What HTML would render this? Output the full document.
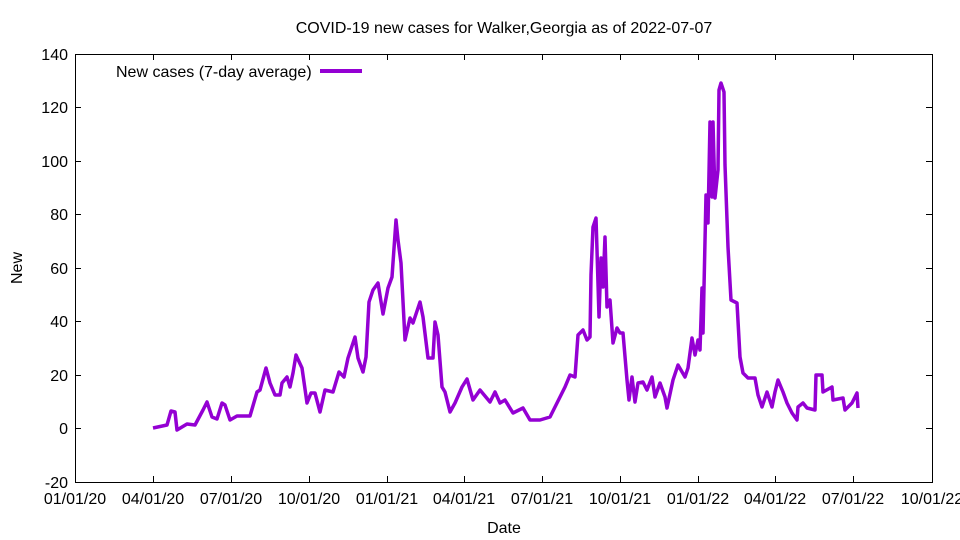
<!DOCTYPE html>
<html><head><meta charset="utf-8"><style>body{margin:0;background:#fff}svg{display:block}text{font-family:"Liberation Sans",sans-serif;font-size:16px;fill:#000}</style></head><body>
<svg width="960" height="540" xmlns="http://www.w3.org/2000/svg">
<rect x="75.5" y="54.5" width="857" height="428" fill="none" stroke="#000" stroke-width="1"/>
<g stroke="#000" stroke-width="1">
<path d="M75 54.5h6M75 107.5h6M75 161.5h6M75 214.5h6M75 268.5h6M75 321.5h6M75 375.5h6M75 428.5h6M932 54.5h-6M932 107.5h-6M932 161.5h-6M932 214.5h-6M932 268.5h-6M932 321.5h-6M932 375.5h-6M932 428.5h-6"/>
<path d="M75.5 482v-6M153.5 482v-6M231.5 482v-6M309.5 482v-6M387.5 482v-6M464.5 482v-6M542.5 482v-6M620.5 482v-6M698.5 482v-6M775.5 482v-6M853.5 482v-6M932.5 482v-6M153.5 54v6M231.5 54v6M309.5 54v6M387.5 54v6M464.5 54v6M542.5 54v6M620.5 54v6M698.5 54v6M775.5 54v6M853.5 54v6"/>
</g>
<g text-anchor="end">
<text x="68" y="60">140</text><text x="68" y="113">120</text><text x="68" y="167">100</text><text x="68" y="220">80</text><text x="68" y="274">60</text><text x="68" y="327">40</text><text x="68" y="381">20</text><text x="68" y="434">0</text><text x="68" y="488">-20</text>
</g>
<g text-anchor="middle">
<text x="75" y="504">01/01/20</text><text x="153" y="504">04/01/20</text><text x="231" y="504">07/01/20</text><text x="309" y="504">10/01/20</text><text x="387" y="504">01/01/21</text><text x="464" y="504">04/01/21</text><text x="542" y="504">07/01/21</text><text x="620" y="504">10/01/21</text><text x="698" y="504">01/01/22</text><text x="775" y="504">04/01/22</text><text x="853" y="504">07/01/22</text><text x="932" y="504">10/01/22</text>
<text x="504" y="533">Date</text>
<text x="504" y="33">COVID-19 new cases for Walker,Georgia as of 2022-07-07</text>
<text x="0" y="0" transform="translate(22,268) rotate(-90)">New</text>
</g>
<text x="116" y="77">New cases (7-day average)</text>
<path d="M320 71h42" stroke="#9400d3" stroke-width="4"/>
<polyline fill="none" stroke="#9400d3" stroke-width="3.5" stroke-linejoin="round" points="153,428 167,425 171,411 175,412 177,430 187,424 195,425 203,410 207,402 212,417 217,419 222,403 225,405 230,420 237,416 250,416 257,392 260,390 266,368 270,383 275,395 280,395 282,383 287,377 290,387 293,373 296,355 302,368 307,403 311,393 315,393 320,412 325,390 333,392 339,372 344,377 348,358 355,337 358,358 363,372 366,357 369,302 373,290 378,283 383,314 388,288 392,277 396,220 398,240 401,263 405,340 410,318 413,323 420,302 423,317 428,358 433,358 435,322 438,335 442,387 445,392 450,412 455,403 462,387 467,379 473,400 480,390 490,402 495,392 500,403 505,400 513,413 523,408 530,420 540,420 550,417 557,403 565,387 570,375 575,377 578,335 583,330 587,340 590,337 591,275 593,227 596,218 597,250 599,317 601,258 603,287 605,237 607,307 610,300 613,343 617,328 620,333 623,333 627,380 629,400 632,377 635,402 638,383 643,382 647,390 652,377 655,397 660,383 665,397 667,408 673,380 678,365 685,377 688,368 692,338 695,355 698,340 700,350 702,288 703,333 706,195 708,223 710,122 712,197 713,122 715,198 718,170 719,90 721,83 724,92 725,165 728,247 731,300 737,303 740,357 743,373 748,378 755,378 758,395 762,407 767,392 772,407 775,392 778,380 783,392 787,403 792,413 797,420 798,407 803,403 807,408 815,410 816,375 822,375 823,392 832,387 833,400 843,398 845,410 852,403 857,393 858,408"/>
</svg>
</body></html>
